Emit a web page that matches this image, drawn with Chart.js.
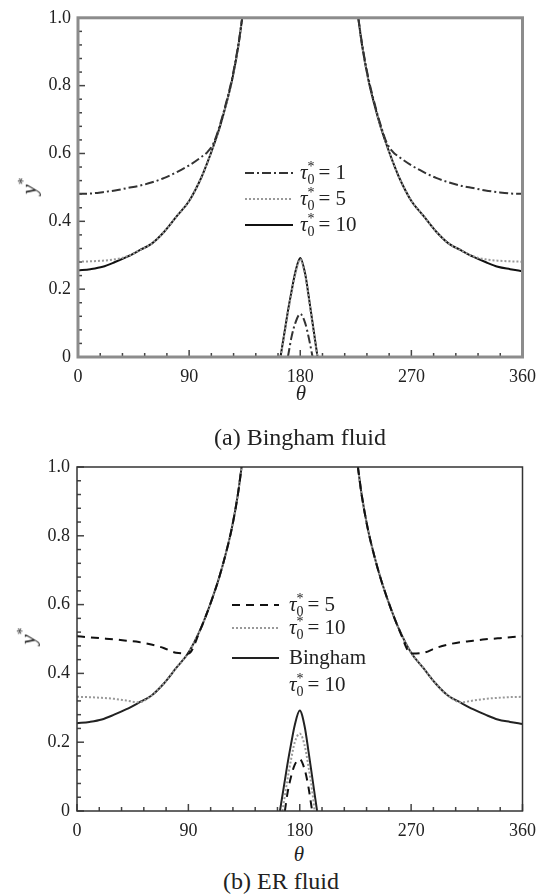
<!DOCTYPE html>
<html>
<head>
<meta charset="utf-8">
<script src="https://cdn.jsdelivr.net/npm/chart.js@4/dist/chart.umd.min.js"></script>
<style>
  body { margin: 0; background: #fff; }
  #page { position: relative; width: 545px; height: 894px; font-family: "Liberation Serif", serif; color: #222; }
  canvas { position: absolute; left: 0; }
  .lbl { position: absolute; transform: translate(-50%, -50%); white-space: nowrap; }
  .ytitle { position: absolute; transform: translate(-50%, -50%) rotate(-90deg); font-style: italic; font-size: 22px; }
  .ytitle sup { font-size: 14px; font-style: normal; }
</style>
</head>
<body>
<div id="page">
  <canvas id="chartA" width="545" height="420" style="top:0"></canvas>
  <canvas id="chartB" width="545" height="400" style="top:440px"></canvas>
  <div class="ytitle" style="left:29px; top:186px">y<sup>*</sup></div>
  <div class="lbl" style="left:301px; top:393px; font-style:italic; font-size:21px">θ</div>
  <div class="lbl" style="left:300px; top:437px; font-size:24px">(a) Bingham fluid</div>
  <div class="ytitle" style="left:28px; top:636px">y<sup>*</sup></div>
  <div class="lbl" style="left:299px; top:854px; font-style:italic; font-size:21px">θ</div>
  <div class="lbl" style="left:281px; top:881px; font-size:24px">(b) ER fluid</div>
</div>
<script>
// angle grid shared by every curve (null values break the line)
const theta = [0, 10, 20, 30, 40, 50, 60, 70, 80, 90, 100, 105, 110, 115, 120, 125, 130, 133,
  150,
  164, 166, 168, 170, 173, 176, 180, 184, 187, 190, 192, 194, 196,
  210,
  227, 230, 235, 240, 245, 250, 255, 260, 270, 280, 290, 300, 310, 320, 330, 340, 350, 360];

const xTicks = [0, 90, 180, 270, 360];
const yTicks = [0, 0.2, 0.4, 0.6, 0.8, 1.0];

// (a) Bingham fluid
const aTau1 = [0.481, 0.482, 0.486, 0.491, 0.498, 0.505, 0.515, 0.528, 0.545, 0.565, 0.59, 0.605, 0.632, 0.685, 0.75, 0.825, 0.925, 1.0,
  null,
  null, null, null, 0, 0.06, 0.1, 0.127, 0.1, 0.055, 0, null, null, null,
  null,
  1.0, 0.925, 0.825, 0.75, 0.685, 0.632, 0.605, 0.59, 0.565, 0.545, 0.528, 0.515, 0.505, 0.498, 0.491, 0.486, 0.482, 0.481];
const aTau5 = [0.281, 0.282, 0.284, 0.288, 0.297, 0.315, 0.335, 0.37, 0.415, 0.46, 0.53, 0.575, 0.625, 0.68, 0.745, 0.82, 0.92, 1.0,
  null,
  0, 0.04, 0.085, 0.13, 0.19, 0.245, 0.288, 0.24, 0.17, 0.095, 0.045, 0, null,
  null,
  1.0, 0.92, 0.82, 0.745, 0.68, 0.625, 0.575, 0.53, 0.46, 0.415, 0.37, 0.335, 0.315, 0.297, 0.288, 0.284, 0.282, 0.281];
const aTau10 = [0.255, 0.259, 0.266, 0.28, 0.296, 0.315, 0.335, 0.37, 0.415, 0.46, 0.53, 0.575, 0.625, 0.68, 0.745, 0.82, 0.92, 1.0,
  null,
  0, 0.045, 0.09, 0.135, 0.195, 0.25, 0.292, 0.245, 0.175, 0.1, 0.05, 0, null,
  null,
  1.0, 0.92, 0.82, 0.745, 0.68, 0.625, 0.575, 0.53, 0.46, 0.415, 0.37, 0.335, 0.315, 0.296, 0.28, 0.266, 0.259, 0.253];

// (b) ER fluid
const bTau5 = [0.508, 0.505, 0.502, 0.499, 0.495, 0.491, 0.484, 0.474, 0.46, 0.458, 0.53, 0.575, 0.625, 0.68, 0.745, 0.82, 0.92, 1.0,
  null,
  null, null, 0, 0.05, 0.1, 0.135, 0.15, 0.12, 0.07, 0, null, null, null,
  null,
  1.0, 0.92, 0.82, 0.745, 0.68, 0.625, 0.575, 0.53, 0.458, 0.46, 0.474, 0.484, 0.491, 0.495, 0.499, 0.502, 0.505, 0.508];
const bTau10 = [0.332, 0.331, 0.329, 0.326, 0.321, 0.316, 0.335, 0.37, 0.415, 0.46, 0.53, 0.575, 0.625, 0.68, 0.745, 0.82, 0.92, 1.0,
  null,
  null, 0, 0.045, 0.09, 0.15, 0.2, 0.225, 0.19, 0.13, 0.06, 0, null, null,
  null,
  1.0, 0.92, 0.82, 0.745, 0.68, 0.625, 0.575, 0.53, 0.46, 0.415, 0.37, 0.335, 0.316, 0.321, 0.326, 0.329, 0.331, 0.332];
const bBingham = [0.255, 0.259, 0.266, 0.28, 0.296, 0.315, 0.335, 0.37, 0.415, 0.46, 0.53, 0.575, 0.625, 0.68, 0.745, 0.82, 0.92, 1.0,
  null,
  0, 0.045, 0.09, 0.135, 0.195, 0.25, 0.292, 0.245, 0.175, 0.1, 0.05, 0, null,
  null,
  1.0, 0.92, 0.82, 0.745, 0.68, 0.625, 0.575, 0.53, 0.46, 0.415, 0.37, 0.335, 0.315, 0.296, 0.28, 0.266, 0.259, 0.253];

const SERIF = '"Liberation Serif", serif';

function pts(vals) {
  return theta.map((t, i) => ({ x: t, y: vals[i] }));
}

function line(label, vals, color, dash, width) {
  return {
    label: label,
    data: pts(vals),
    borderColor: color,
    borderDash: dash,
    borderWidth: width,
    pointRadius: 0,
    fill: false,
    spanGaps: false,
    cubicInterpolationMode: 'monotone'
  };
}

// draws tau_0^* = n
function drawTau(ctx, x, y, num) {
  ctx.textBaseline = 'alphabetic';
  ctx.textAlign = 'left';
  ctx.font = 'italic 21px ' + SERIF;
  ctx.fillText('τ', x, y);
  const w = ctx.measureText('τ').width;
  ctx.font = '14px ' + SERIF;
  ctx.fillText('0', x + w, y + 5);
  ctx.fillText('*', x + w, y - 8);
  const w2 = ctx.measureText('0').width;
  ctx.font = '21px ' + SERIF;
  ctx.fillText('= ' + num, x + w + w2 + 4, y);
}

// frame, inward ticks and the boxed legend
const decor = {
  id: 'decor',
  afterDraw(chart, args, o) {
    const { ctx, chartArea: a, scales: { x, y } } = chart;
    ctx.save();
    ctx.strokeStyle = o.tickColor;
    ctx.lineWidth = 1.5;
    for (let v = 0; v <= 360; v += 18) {
      const px = x.getPixelForValue(v);
      const len = v % 90 === 0 ? 7 : 4;
      ctx.beginPath();
      ctx.moveTo(px, a.bottom);
      ctx.lineTo(px, a.bottom - len);
      ctx.stroke();
    }
    for (let i = 0; i <= 25; i++) {
      const py = y.getPixelForValue(i * 0.04);
      const len = i % 5 === 0 ? 7 : 4;
      ctx.beginPath();
      ctx.moveTo(a.left, py);
      ctx.lineTo(a.left + len, py);
      ctx.stroke();
    }
    ctx.strokeStyle = o.frameColor;
    ctx.lineWidth = o.frameWidth;
    ctx.strokeRect(a.left, a.top, a.right - a.left, a.bottom - a.top);

    // legend
    ctx.fillStyle = '#222';
    o.rows.forEach(r => {
      if (r.ds !== null) {
        const ds = chart.data.datasets[r.ds];
        ctx.strokeStyle = ds.borderColor;
        ctx.lineWidth = ds.borderWidth;
        ctx.setLineDash(ds.borderDash);
        ctx.beginPath();
        ctx.moveTo(o.x0, r.y);
        ctx.lineTo(o.x1, r.y);
        ctx.stroke();
        ctx.setLineDash([]);
      }
      if (r.tau !== undefined) {
        drawTau(ctx, o.tx, r.y + 6, r.tau);
      } else {
        ctx.font = '21px ' + SERIF;
        ctx.textAlign = 'left';
        ctx.textBaseline = 'alphabetic';
        ctx.fillText(r.text, o.tx, r.y + 6);
      }
    });
    ctx.restore();
  }
};

function makeChart(id, datasets, padTop, yWidth, xHeight, decorOpts) {
  const canvas = document.getElementById(id);
  return new Chart(canvas, {
    type: 'line',
    data: { datasets: datasets },
    options: {
      responsive: false,
      animation: false,
      layout: { padding: { top: padTop, right: 21, left: 0, bottom: 0 } },
      plugins: { legend: { display: false }, tooltip: { enabled: false }, decor: decorOpts },
      scales: {
        x: {
          type: 'linear',
          min: 0,
          max: 360,
          afterBuildTicks: s => { s.ticks = xTicks.map(v => ({ value: v })); },
          ticks: { font: { family: SERIF, size: 18 }, color: '#222', padding: 9, maxRotation: 0, autoSkip: false },
          grid: { drawOnChartArea: false, drawTicks: false },
          border: { display: false },
          afterFit: s => { s.height = xHeight; }
        },
        y: {
          min: 0,
          max: 1,
          afterBuildTicks: s => { s.ticks = yTicks.map(v => ({ value: v })); },
          ticks: {
            font: { family: SERIF, size: 18 }, color: '#222', padding: 7,
            callback: v => v === 0 ? '0' : v.toFixed(1)
          },
          grid: { drawOnChartArea: false, drawTicks: false },
          border: { display: false },
          afterFit: s => { s.width = yWidth; }
        }
      }
    },
    plugins: [decor]
  });
}

makeChart('chartA', [
  line('τ0* = 1', aTau1, '#333', [9, 3, 2, 3], 2),
  line('τ0* = 5', aTau5, '#999', [2, 2], 2),
  line('τ0* = 10', aTau10, '#111', [], 2)
], 14, 78, 63, {
  tickColor: '#444', frameColor: '#8c8c8c', frameWidth: 3,
  x0: 245, x1: 293, tx: 300,
  rows: [
    { ds: 0, y: 173, tau: 1 },
    { ds: 1, y: 199, tau: 5 },
    { ds: 2, y: 225, tau: 10 }
  ]
});

makeChart('chartB', [
  line('τ0* = 5', bTau5, '#111', [8, 6], 2),
  line('τ0* = 10', bTau10, '#999', [2, 2], 2),
  line('Bingham τ0* = 10', bBingham, '#222', [], 2)
], 27, 77, 29, {
  tickColor: '#444', frameColor: '#333', frameWidth: 1.5,
  x0: 232, x1: 279, tx: 289,
  rows: [
    { ds: 0, y: 165, tau: 5 },
    { ds: 1, y: 188, tau: 10 },
    { ds: 2, y: 218, text: 'Bingham' },
    { ds: null, y: 245, tau: 10 }
  ]
});
</script>
</body>
</html>
